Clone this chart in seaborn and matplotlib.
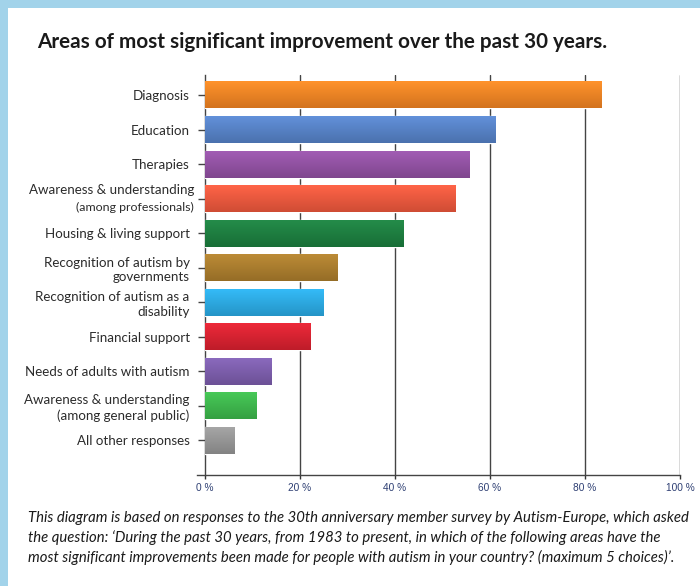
import numpy as np
import pandas as pd
import matplotlib
matplotlib.use("Agg")
import matplotlib.pyplot as plt
import matplotlib.colors as mcolors
from matplotlib.patches import Rectangle
import seaborn as sns

categories = [
    "Diagnosis",
    "Education",
    "Therapies",
    "Awareness & understanding (among professionals)",
    "Housing & living support",
    "Recognition of autism by governments",
    "Recognition of autism as a disability",
    "Financial support",
    "Needs of adults with autism",
    "Awareness & understanding (among general public)",
    "All other responses",
]
tick_labels = [
    "Diagnosis",
    "Education",
    "Therapies",
    "",
    "Housing & living support",
    "Recognition of autism by\ngovernments",
    "Recognition of autism as a\ndisability",
    "Financial support",
    "Needs of adults with autism",
    "Awareness & understanding\n(among general public)",
    "All other responses",
]
percent = [83.4, 61.2, 55.6, 52.8, 41.7, 28.0, 25.0, 22.3, 13.9, 10.9, 6.3]
colors = ["#f08322", "#5581c6", "#9150a2", "#ec573c", "#1b7d3e", "#aa7c2c",
          "#2aa9e2", "#d8202f", "#7b5cab", "#3cb64b", "#959595"]
x_ticks = [0, 20, 40, 60, 80, 100]

df = pd.DataFrame({"area": categories, "pct": percent})

sns.set_theme(style="white")
plt.rcParams["font.family"] = ["Lato", "DejaVu Sans"]

fig = plt.figure(figsize=(7.0, 5.86), dpi=100)
fig.patch.set_facecolor("white")
# light blue frame on the left and top edges
fig.patches.append(Rectangle((0, 0), 8 / 700, 1, transform=fig.transFigure,
                             facecolor="#a2d3ea", edgecolor="none", zorder=0))
fig.patches.append(Rectangle((0, 1 - 8 / 586), 1, 8 / 586, transform=fig.transFigure,
                             facecolor="#a2d3ea", edgecolor="none", zorder=0))

ax = fig.add_axes([205 / 700, 1 - 475 / 586, 475 / 700, 400 / 586])
sns.barplot(data=df, x="pct", y="area", hue="area", palette=colors,
            width=0.78, saturation=1, legend=False, ax=ax, zorder=3)

# vertical shading on each bar: lighter top, darker bottom
for patch, c in zip(ax.patches, colors):
    x0, y0 = patch.get_x(), patch.get_y()
    w, h = patch.get_width(), patch.get_height()
    rgb = np.array(mcolors.to_rgb(c))
    top = np.clip(rgb * 1.06 + 0.03, 0, 1)
    bot = rgb * 0.88
    t = np.linspace(0, 1, 32)[:, None]
    grad = (top[None, :] * (1 - t) + bot[None, :] * t)[:, None, :]
    ax.imshow(grad, extent=(x0, x0 + w, y0 + h, y0), aspect="auto",
              interpolation="bilinear", zorder=4)

ax.set_xlim(0, 100)
ax.set_ylim(len(categories) - 1 + 1.01, -0.58)

label_size = 9.6
ax.set_xticks(x_ticks)
ax.set_xticklabels([f"{v} %" for v in x_ticks], fontsize=7.3,
                   family=["Liberation Sans", "DejaVu Sans"], color="#2e3f73")
ax.set_yticks(range(len(categories)))
ax.set_yticklabels(tick_labels, fontsize=label_size, color="#2b2b2b",
                   linespacing=1.25)
ax.tick_params(axis="y", which="major", left=True, length=5, width=1,
               color="#444444", pad=6)
ax.tick_params(axis="x", which="major", bottom=True, length=3, width=1,
               color="#333333", pad=3)

# two-size label for the professionals row
ytr = ax.get_yaxis_transform()
ax.text(-0.0232, 3 - 0.24, "Awareness & understanding", transform=ytr,
        ha="right", va="center", fontsize=label_size, color="#2b2b2b")
ax.text(-0.0232, 3 + 0.27, "(among professionals)", transform=ytr,
        ha="right", va="center", fontsize=8.9, color="#2b2b2b")

for v in x_ticks[1:]:
    ax.axvline(v, color="#444444", lw=1.0, zorder=1)

for side in ["top", "right"]:
    ax.spines[side].set_visible(False)
ax.spines["left"].set_color("#444444")
ax.spines["left"].set_linewidth(1.0)
ax.spines["bottom"].set_color("#444444")
ax.spines["bottom"].set_linewidth(1.0)
ax.spines["bottom"].set_bounds(-1.7, 100)
ax.set_xlabel("")
ax.set_ylabel("")

fig.text(37 / 700, 1 - 42 / 586,
         "Areas of most significant improvement over the past 30 years.",
         fontsize=14.9, fontweight="bold", color="#1a1a1a", va="center", ha="left")

caption = ("This diagram is based on responses to the 30th anniversary member survey by Autism-Europe, which asked\n"
           "the question: \u2018During the past 30 years, from 1983 to present, in which of the following areas have the\n"
           "most significant improvements been made for people with autism in your country? (maximum 5 choices)\u2019.")
fig.text(28 / 700, 1 - 538 / 586, caption, fontsize=10.7, style="italic",
         color="#1a1a1a", ha="left", va="center", linespacing=1.42,
         multialignment="left")

fig.savefig("out.png", dpi=100)
